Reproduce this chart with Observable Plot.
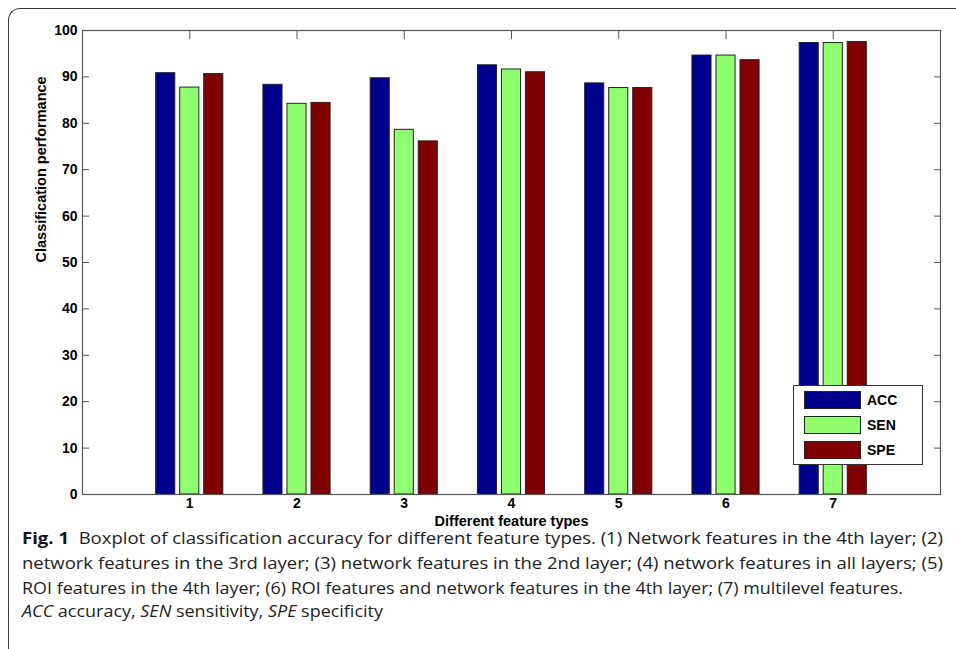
<!DOCTYPE html>
<html><head><meta charset="utf-8">
<script src="https://cdn.jsdelivr.net/npm/d3@7"></script>
<script src="https://cdn.jsdelivr.net/npm/@observablehq/plot@0.6"></script>
<style>
html,body{margin:0;padding:0;background:#fff;}
body{width:956px;height:649px;overflow:hidden;position:relative;font-family:"Liberation Sans",Arial,sans-serif;}
#frame{position:absolute;left:8px;top:8px;width:1000px;height:700px;border-top:1.4px solid #3a3a3a;border-left:1.4px solid #3a3a3a;border-top-left-radius:12px;box-sizing:border-box;}
#chart{position:absolute;left:0;top:0;}
#legend{position:absolute;left:793px;top:385px;width:130px;height:80px;border:1px solid #333;background:#fff;box-sizing:border-box;}
.lg{position:absolute;left:10px;width:57px;height:18px;border:1px solid #222;box-sizing:border-box;}
.lt{position:absolute;left:73px;font:bold 14px "Liberation Sans",Arial,sans-serif;line-height:18px;color:#000;}
.cap{position:absolute;left:22px;white-space:nowrap;font-family:"Open Sans",sans-serif;font-size:16px;line-height:20px;color:#222;transform-origin:0 50%;}
.cap b{font-weight:700;color:#111;}
</style></head>
<body>
<div id="frame"></div>
<div id="chart"></div>
<div id="legend"></div>
<div id="caption"></div>
<script>
const categories = [1, 2, 3, 4, 5, 6, 7];
const seriesNames = ["ACC", "SEN", "SPE"];
const accValues = [90.8, 88.3, 89.7, 92.5, 88.6, 94.6, 97.3];
const senValues = [87.7, 84.2, 78.6, 91.6, 87.6, 94.6, 97.3];
const speValues = [90.6, 84.4, 76.1, 91.0, 87.6, 93.6, 97.5];
const yTicks = [0, 10, 20, 30, 40, 50, 60, 70, 80, 90, 100];
const seriesColors = ["#00008F", "#8FFF70", "#800000"];
const xLabel = "Different feature types";
const yLabel = "Classification performance";
const captionLines = [
  "<b>Fig. 1</b>&nbsp;&nbsp;Boxplot of classification accuracy for different feature types. (1) Network features in the 4th layer; (2)",
  "network features in the 3rd layer; (3) network features in the 2nd layer; (4) network features in all layers; (5)",
  "ROI features in the 4th layer; (6) ROI features and network features in the 4th layer; (7) multilevel features.",
  "<i>ACC</i> accuracy, <i>SEN</i> sensitivity, <i>SPE</i> specificity"
];

const valuesBySeries = {ACC: accValues, SEN: senValues, SPE: speValues};
const data = [];
categories.forEach((c, i) => {
  seriesNames.forEach((s, j) => data.push({cat: c, series: s, idx: j, value: valuesBySeries[s][i]}));
});
const groupStep = 0.224, barW = 0.178;
const font = "'Liberation Sans', Arial, sans-serif";

const chart = Plot.plot({
  width: 956, height: 540,
  marginLeft: 82, marginRight: 16, marginTop: 30, marginBottom: 46,
  x: {domain: [0, 8]},
  y: {domain: [0, 100]},
  color: {domain: seriesNames, range: seriesColors},
  style: {fontFamily: font, fontWeight: "bold", fontSize: "14px", color: "#000", background: "transparent", overflow: "visible"},
  marks: [
    Plot.axisX(categories, {anchor: "bottom", tickSize: -8, fill: "none", stroke: "#555", label: null}),
    Plot.rectY(data, {
      x1: d => d.cat + (d.idx - 1) * groupStep - barW / 2,
      x2: d => d.cat + (d.idx - 1) * groupStep + barW / 2,
      y1: 0, y2: "value", fill: "series", stroke: "#222", strokeWidth: 1
    }),
    Plot.axisX(categories, {anchor: "bottom", tickSize: 0, tickPadding: 4, stroke: "none", label: null, fontSize: 14, fontWeight: "bold"}),
    Plot.axisX(categories, {anchor: "top", tickSize: -8, fill: "none", stroke: "#555", label: null}),
    Plot.axisY(yTicks, {anchor: "left", tickSize: -7, fill: "none", stroke: "#555", label: null}),
    Plot.axisY(yTicks, {anchor: "right", tickSize: -7, fill: "none", stroke: "#555", label: null}),
    Plot.axisY(yTicks, {anchor: "left", tickSize: 0, tickPadding: 5, stroke: "none", label: null, fontSize: 14, fontWeight: "bold"}),
    Plot.text([xLabel], {frameAnchor: "bottom", dy: 31, fontSize: 14.5, fontWeight: "bold", fill: "#000"}),
    Plot.text([yLabel], {frameAnchor: "left", dx: -41, rotate: -90, fontSize: 14.5, fontWeight: "bold", fill: "#000"}),
    Plot.frame({stroke: "#555", strokeWidth: 1.2})
  ]
});
chart.style.overflow = "visible";
document.getElementById("chart").appendChild(chart);

// legend
const legend = document.getElementById("legend");
const legTops = [5, 30, 55];
seriesNames.forEach((s, i) => {
  const sw = document.createElement("div");
  sw.className = "lg"; sw.style.top = legTops[i] + "px"; sw.style.background = seriesColors[i];
  legend.appendChild(sw);
  const t = document.createElement("div");
  t.className = "lt"; t.style.top = legTops[i] + "px"; t.textContent = s;
  legend.appendChild(t);
});

// caption
const capTops = [528, 553, 578, 601];
const capWidths = [921, 921, 881, 361];
const cap = document.getElementById("caption");
captionLines.forEach((html, i) => {
  const d = document.createElement("div");
  d.className = "cap"; d.innerHTML = html; d.style.top = capTops[i] + "px";
  cap.appendChild(d);
  const w = d.getBoundingClientRect().width;
  d.style.transform = `scaleX(${capWidths[i] / w})`;
});
</script>
</body></html>
